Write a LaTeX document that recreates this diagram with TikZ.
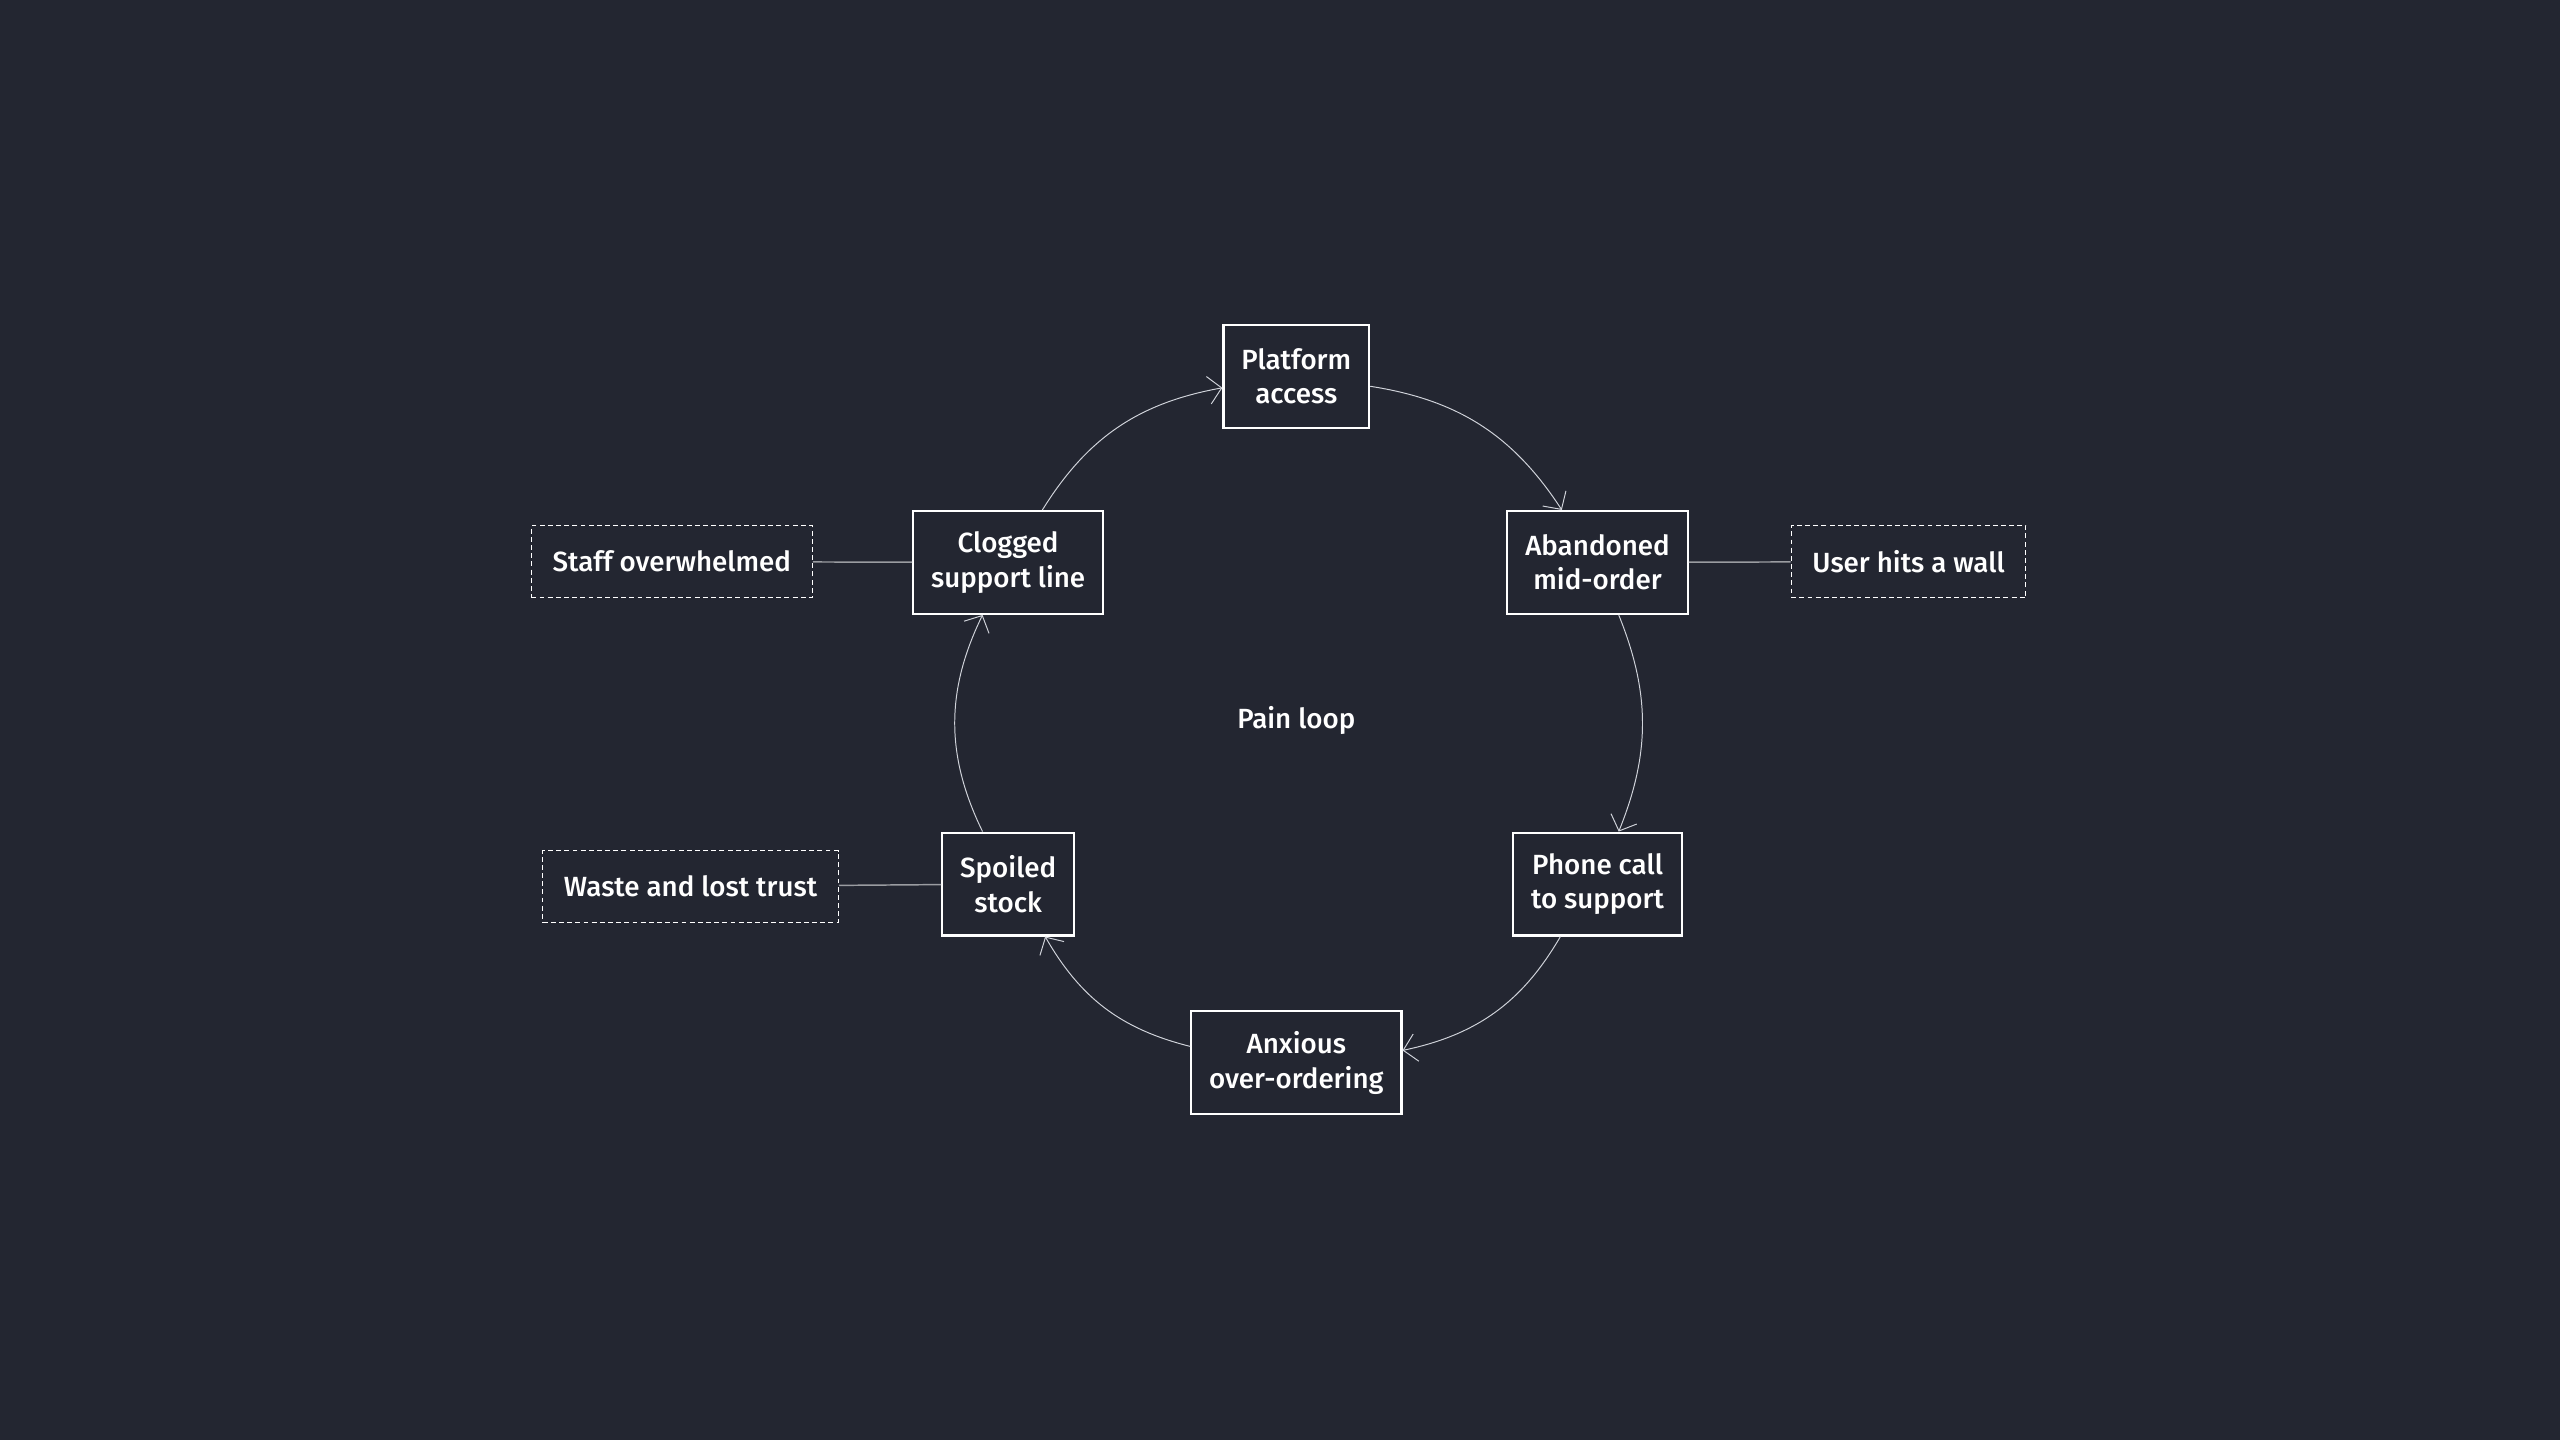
\documentclass[tikz,border=0pt]{standalone}
\usepackage{fontspec}
\setmainfont{Fira Sans Medium}
\usetikzlibrary{arrows.meta}
\definecolor{bgcol}{HTML}{232631}
\definecolor{arccol}{HTML}{D0D3DA}
\definecolor{linkcol}{HTML}{9A9CA1}
\tikzset{
	stage/.style={draw=white,line width=1.3pt,fill=bgcol,text=white,align=center,inner xsep=11pt,minimum height=63pt,font=\fontsize{17}{21}\selectfont},
	effect/.style={draw=white,dash pattern=on 3pt off 2pt,line width=0.6pt,text=white,inner xsep=13pt,minimum height=44pt,font=\fontsize{17}{21}\selectfont},
	flow/.style={draw=arccol,line width=0.6pt,-{Straight Barb[length=8pt,width=17pt]}},
	link/.style={draw=linkcol,line width=0.9pt}
}
\begin{document}
\begin{tikzpicture}[x=1pt,y=1pt]
	\fill [bgcol] (-794,-441) rectangle (774,441);
	\useasboundingbox (-794,-441) rectangle (774,441);

	\node [stage] (platform) at (0,210.5) {Platform\\access};
	\node [stage] (abandoned) at (184.5,96.5) {Abandoned\\mid-order};
	\node [stage] (phone) at (184.5,-100.5) {Phone call\\to support};
	\node [stage] (anxious) at (0,-210) {Anxious\\over-ordering};
	\node [stage] (spoiled) at (-176.5,-100.5) {Spoiled\\stock};
	\node [stage] (clogged) at (-176.5,96.5) {Clogged\\support line};
	\node [text=white,font=\fontsize{17}{21}\selectfont] (pain) at (0,0) {Pain loop};

	\node [effect] (staff) at (-382.5,97) {Staff overwhelmed};
	\node [effect] (wall) at (375,97) {User hits a wall};
	\node [effect] (waste) at (-371,-102) {Waste and lost trust};

	\draw [flow] (platform) to[bend left=24] (abandoned);
	\draw [flow] (abandoned) to[bend left=22] (phone);
	\draw [flow] (phone) to[bend left=24] (anxious);
	\draw [flow] (anxious) to[bend left=23] (spoiled);
	\draw [flow] (spoiled) to[bend left=26] (clogged);
	\draw [flow] (clogged) to[bend left=24] (platform);

	\draw [link] (staff) -- (clogged);
	\draw [link] (abandoned) -- (wall);
	\draw [link] (waste) -- (spoiled);
\end{tikzpicture}
\end{document}
